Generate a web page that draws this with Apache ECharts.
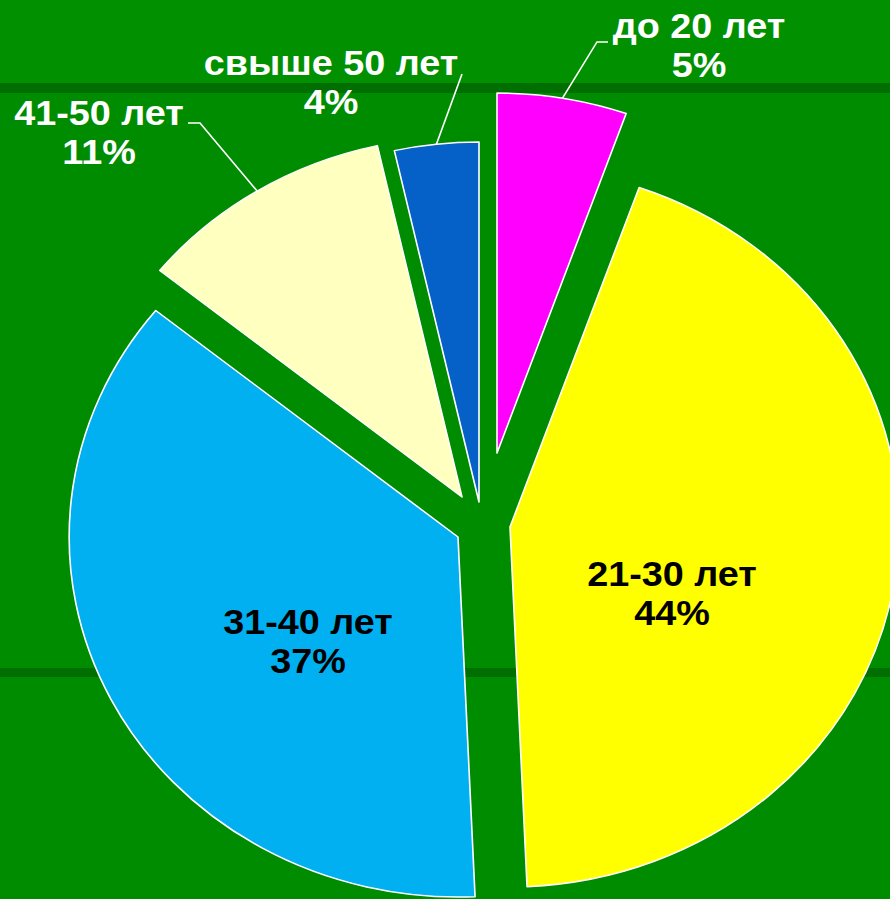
<!DOCTYPE html>
<html>
<head>
<meta charset="utf-8">
<script src="https://cdn.jsdelivr.net/npm/echarts@6/dist/echarts.min.js"></script>
<style>
html,body{margin:0;padding:0;width:890px;height:899px;overflow:hidden;}
#bg{position:absolute;left:0;top:0;width:890px;height:899px;
 background:linear-gradient(to bottom,#009000 0px,#009000 83px,#006e00 83px,#006e00 93px,#008c00 93px,#008c00 668px,#006e00 668px,#006e00 677px,#008c00 677px,#008c00 899px);}
#chart{position:absolute;left:0;top:0;width:824px;height:899px;transform:scaleX(1.0801);transform-origin:0 0;}
</style>
</head>
<body>
<div id="bg"></div>
<div id="chart"></div>
<script>
// ---- data ----
const categories = ['до 20 лет', '21-30 лет', '31-40 лет', '41-50 лет', 'свыше 50 лет'];
const values = [5.4, 44, 36.6, 10.7, 3.5];

// ---- styles / layout ----
const colors = ['#ff00ff', '#ffff00', '#00b0f0', '#ffffc0', '#0560c8'];
const labelInside = [false, true, true, false, false];
const S = 890 / 824;                       // horizontal stretch of the picture
const px = x => x / S;                     // screen x -> chart x
// exploded slice apex (screen px)
const sliceApex = [[497, 453], [510, 527], [458, 537], [462, 497], [479, 502]];
// label block centres (screen px)
const labelPos = [[699, 45], [672, 593], [308, 641], [99, 132], [331, 82]];
// leader line bends (screen px)
const leaderBends = [[[597, 42], [608, 42]], null, null, [[200, 123], [188, 123]], [[462, 74], [462, 74]]];

const series = categories.map((_, i) => ({
  type: 'pie',
  silent: true,
  animation: false,
  radius: 360,
  center: [px(sliceApex[i][0]), sliceApex[i][1]],
  startAngle: 90,
  clockwise: true,
  avoidLabelOverlap: false,
  emphasis: { disabled: true },
  label: {
    show: true,
    position: labelInside[i] ? 'inside' : 'outside',
    color: labelInside[i] ? '#000' : '#fff',
    fontFamily: '"Liberation Sans", Arial, sans-serif',
    fontWeight: 'bold',
    fontSize: 35,
    lineHeight: 39,
    align: 'center',
    formatter: p => p.name + '\n' + Math.round(p.value) + '%'
  },
  labelLine: {
    show: !labelInside[i],
    lineStyle: { color: '#fff', width: 1.5 }
  },
  labelLayout: p => {
    if (p.dataIndex !== i) return {};
    const o = { x: px(labelPos[i][0]), y: labelPos[i][1], align: 'center', verticalAlign: 'middle' };
    if (leaderBends[i] && p.labelLinePoints) {
      o.labelLinePoints = [
        p.labelLinePoints[0],
        [px(leaderBends[i][0][0]), leaderBends[i][0][1]],
        [px(leaderBends[i][1][0]), leaderBends[i][1][1]]
      ];
    }
    return o;
  },
  data: categories.map((name, j) => ({
    name: name,
    value: values[j],
    itemStyle: j === i
      ? { color: colors[j], borderColor: '#ffffff', borderWidth: 1.5 }
      : { color: 'rgba(0,0,0,0)', borderWidth: 0 },
    label: { show: j === i },
    labelLine: { show: j === i && !labelInside[i] }
  }))
}));

const chart = echarts.init(document.getElementById('chart'), null, { renderer: 'svg' });
chart.setOption({ backgroundColor: 'transparent', series: series });
</script>
</body>
</html>
